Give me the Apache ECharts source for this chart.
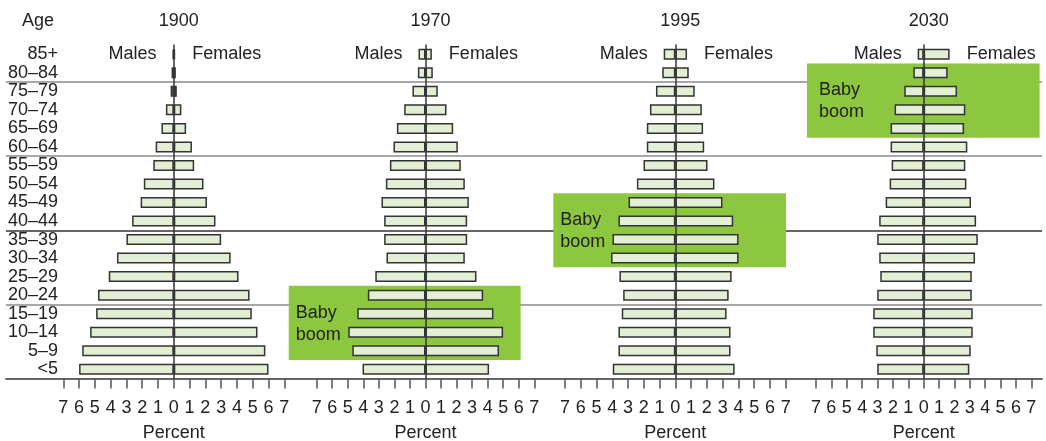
<!DOCTYPE html>
<html>
<head>
<meta charset="utf-8">
<script src="https://cdn.jsdelivr.net/npm/echarts@6/dist/echarts.min.js"></script>
<style>
html,body{margin:0;padding:0;background:#fff;}
#chart{width:1046px;height:441px;}
</style>
</head>
<body>
<div id="chart"></div>
<script>
// ---- data ----
const categories = ['<5','5–9','10–14','15–19','20–24','25–29','30–34','35–39','40–44','45–49','50–54','55–59','60–64','65–69','70–74','75–79','80–84','85+'];
const years = ['1900','1970','1995','2030'];
const males1900   = [6.0,5.8,5.3,4.92,4.8,4.12,3.6,3.0,2.64,2.1,1.9,1.3,1.15,0.78,0.5,0.2,0.14,0.08];
const females1900 = [6.0,5.8,5.3,4.94,4.8,4.1,3.6,3.0,2.64,2.1,1.88,1.29,1.15,0.78,0.48,0.19,0.13,0.08];
const males1970   = [4.05,4.71,4.97,4.39,3.71,3.23,2.51,2.66,2.66,2.83,2.55,2.29,2.06,1.84,1.37,0.84,0.49,0.45];
const females1970 = [4.09,4.73,4.99,4.37,3.71,3.28,2.53,2.68,2.68,2.79,2.53,2.27,2.08,1.78,1.35,0.79,0.47,0.41];
const males1995   = [3.97,3.61,3.61,3.4,3.31,3.55,4.08,3.99,3.61,2.97,2.44,2.02,1.81,1.81,1.61,1.23,0.83,0.74];
const females1995 = [3.76,3.5,3.5,3.25,3.38,3.57,4.01,4.01,3.67,2.99,2.48,2.04,1.83,1.76,1.68,1.23,0.85,0.74];
const males2030   = [3.02,3.08,3.28,3.28,3.02,2.82,2.89,3.02,2.89,2.47,2.21,2.08,2.15,2.15,1.89,1.26,0.67,0.39];
const females2030 = [2.97,3.06,3.19,3.19,3.13,3.13,3.34,3.52,3.41,3.08,2.78,2.71,2.84,2.63,2.71,2.17,1.56,1.69];
const malesData = [males1900, males1970, males1995, males2030];
const femalesData = [females1900, females1970, females1995, females2030];
const tickMin = -7, tickMax = 7, tickStep = 1;
// Baby boom annotation boxes (panel index, category range, value range)
const boomPanel = [1, 2, 3];
const boomFrom  = ['5–9', '30–34', '65–69'];
const boomTo    = ['20–24', '45–49', '80–84'];
const boomLeft  = [-8.8, -7.74, -7.59];
const boomRight = [6.12, 7.02, 7.54];
const boomText  = 'Baby\nboom';

// ---- layout ----
const FONT = 'Liberation Sans, Arial, Helvetica, sans-serif';
const FS = 18;
const TXT = '#222';
const gridTop = 45, gridHeight = 333.5;
const panelLeft  = [63.3, 316.7, 565, 816];
const panelWidth = [221, 217.6, 220.7, 215.3];
const boomTextDx = [7, 7, 12];

const chart = echarts.init(document.getElementById('chart'), null, {renderer: 'canvas'});

const grid = [{left: 6, right: 4, top: gridTop, height: gridHeight, outerBoundsMode: 'none', containLabel: false}];
const xAxis = [{
  type: 'value', gridIndex: 0, min: 0, max: 1,
  axisLine: {show: true, onZero: false, lineStyle: {color: '#666', width: 2}},
  axisTick: {show: false}, axisLabel: {show: false}, splitLine: {show: false}
}];
const yAxis = [{
  type: 'category', gridIndex: 0, data: categories,
  axisLine: {show: false}, axisTick: {show: false},
  axisLabel: {show: true, inside: true, align: 'right', margin: 52, color: TXT, fontSize: FS, fontFamily: FONT, interval: 0},
  splitLine: {show: true, interval: (i) => i > 0 && i % 4 === 0 && i < categories.length,
    lineStyle: {color: ['#8a8a8a', '#333', '#8a8a8a', '#8a8a8a', 'rgba(0,0,0,0)'], width: 1.5}}
}];
const title = [{
  text: 'Age', left: 17, top: 7,
  textStyle: {color: TXT, fontSize: FS, fontWeight: 'normal', fontFamily: FONT}
}];
const series = [];

years.forEach((yr, p) => {
  const gi = p + 1;
  grid.push({left: panelLeft[p], width: panelWidth[p], top: gridTop, height: gridHeight, outerBoundsMode: 'none', containLabel: false});
  xAxis.push({
    type: 'value', gridIndex: gi, min: tickMin, max: tickMax, interval: tickStep,
    axisLine: {show: false},
    axisTick: {show: true, length: 10, lineStyle: {color: '#555', width: 1.5}},
    axisLabel: {show: true, margin: 21, color: TXT, fontSize: FS, fontFamily: FONT, formatter: v => String(Math.abs(v))},
    splitLine: {show: false},
    name: 'Percent', nameLocation: 'middle', nameGap: 46,
    nameTextStyle: {color: TXT, fontSize: FS, fontFamily: FONT}
  });
  yAxis.push({
    type: 'category', gridIndex: gi, data: categories, z: 3,
    axisLine: {show: true, onZero: true, lineStyle: {color: '#333', width: 1.5}},
    axisTick: {show: false}, axisLabel: {show: false}, splitLine: {show: false}
  });
  title.push({
    text: yr, left: panelLeft[p] + panelWidth[p] / 2, top: 7, textAlign: 'center',
    textStyle: {color: TXT, fontSize: FS, fontWeight: 'normal', fontFamily: FONT}
  });
  const barStyle = {color: '#e2efd5', borderColor: '#333', borderWidth: 1.5};
  const last = categories.length - 1;
  series.push({
    type: 'bar', name: 'Males ' + yr, xAxisIndex: gi, yAxisIndex: gi,
    barWidth: 11, barGap: '-100%', itemStyle: barStyle, z: 2, silent: true,
    data: malesData[p].map((v, i) => i === last
      ? {value: -v, label: {show: true, position: 'left', distance: 16, formatter: 'Males', color: TXT, fontSize: FS, fontFamily: FONT}}
      : -v)
  });
  series.push({
    type: 'bar', name: 'Females ' + yr, xAxisIndex: gi, yAxisIndex: gi,
    barWidth: 11, barGap: '-100%', itemStyle: barStyle, z: 2, silent: true,
    data: femalesData[p].map((v, i) => i === last
      ? {value: v, label: {show: true, position: 'right', distance: 17, formatter: 'Females', color: TXT, fontSize: FS, fontFamily: FONT}}
      : v)
  });
});

chart.setOption({
  animation: false,
  backgroundColor: '#fff',
  title, grid, xAxis, yAxis, series
});

// Baby boom boxes positioned through the axes' own scales
const graphic = [];
boomPanel.forEach((p, k) => {
  const gi = p + 1;
  const a = chart.convertToPixel({gridIndex: gi}, [boomLeft[k], boomFrom[k]]);
  const b = chart.convertToPixel({gridIndex: gi}, [boomRight[k], boomTo[k]]);
  const c0 = chart.convertToPixel({gridIndex: gi}, [0, categories[0]]);
  const c1 = chart.convertToPixel({gridIndex: gi}, [0, categories[1]]);
  const band = Math.abs(c0[1] - c1[1]);
  const top = b[1] - band / 2, bottom = a[1] + band / 2;
  graphic.push({
    type: 'rect', z: 1, silent: true,
    shape: {x: a[0], y: top, width: b[0] - a[0], height: bottom - top},
    style: {fill: '#8dc63f'}
  });
  graphic.push({
    type: 'text', z: 4, silent: true,
    x: a[0] + boomTextDx[k], y: top + 16,
    style: {text: boomText, fill: TXT, font: FS + 'px ' + FONT, lineHeight: 22}
  });
});
chart.setOption({graphic});
</script>
</body>
</html>
